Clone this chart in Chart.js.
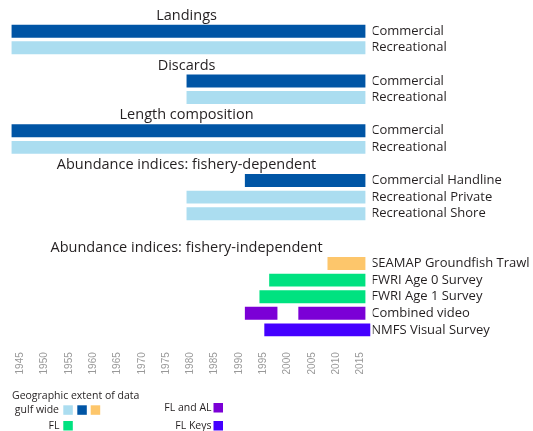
<!DOCTYPE html>
<html>
<head>
<meta charset="utf-8">
<script src="https://cdn.jsdelivr.net/npm/chart.js@4.4.0/dist/chart.umd.min.js"></script>
<style>
  body { margin: 0; background: #fff; }
  #wrap { width: 533px; height: 431px; }
</style>
</head>
<body>
<div id="wrap"><canvas id="timeline" width="533" height="431"></canvas></div>
<script>
// one entry per row, '' rows carry the section titles
const rowLabels = ['', 'Commercial', 'Recreational',
  '', 'Commercial', 'Recreational',
  '', 'Commercial', 'Recreational',
  '', 'Commercial Handline', 'Recreational Private', 'Recreational Shore',
  '', '', 'SEAMAP Groundfish Trawl', 'FWRI Age 0 Survey', 'FWRI Age 1 Survey', 'Combined video', 'NMFS Visual Survey'];

const sectionTitles = ['Landings', 'Discards', 'Length composition',
  'Abundance indices: fishery-dependent', 'Abundance indices: fishery-independent'];
const sectionRows = [0, 3, 6, 9, 14];

const startYears = [null, 1943.2, 1943.2, null, 1979.2, 1979.2, null, 1943.2, 1943.2,
  null, 1991.2, 1979.2, 1979.2, null, null, 2008.2, 1996.2, 1994.2, 1991.2, 1995.2];
const endYears = [null, 2016, 2016, null, 2016, 2016, null, 2016, 2016,
  null, 2016, 2016, 2016, null, null, 2016, 2016, 2016, 1997.9, 2017];
// second piece of the combined video series
const secondStart = [null, null, null, null, null, null, null, null, null,
  null, null, null, null, null, null, null, null, null, 2002.2, null];
const secondEnd = [null, null, null, null, null, null, null, null, null,
  null, null, null, null, null, null, null, null, null, 2016, null];

const rowSource = ['', 'com', 'rec', '', 'com', 'rec', '', 'com', 'rec',
  '', 'com', 'rec', 'rec', '', '', 'trawl', 'fl', 'fl', 'flal', 'keys'];

const yearTicks = [1945, 1950, 1955, 1960, 1965, 1970, 1975, 1980, 1985, 1990, 1995, 2000, 2005, 2010, 2015];

const palette = {
  com: 'rgb(0, 85, 165)',
  rec: 'rgb(171, 221, 240)',
  trawl: 'rgb(253, 198, 107)',
  fl: 'rgb(0, 226, 128)',
  flal: 'rgb(123, 0, 214)',
  keys: 'rgb(68, 0, 255)'
};

const textColor = '#231f20';

const toPairs = (a, b) => a.map((v, i) => (v === null ? null : [v, b[i]]));
const rowColors = rowSource.map(k => palette[k] || 'rgba(0,0,0,0)');

const overlay = {
  id: 'overlay',
  afterDraw(chart) {
    const ctx = chart.ctx;
    const x = chart.scales.x;
    const y = chart.scales.y;
    ctx.save();
    ctx.fillStyle = textColor;
    ctx.font = '14.5px "Open Sans"';
    ctx.textAlign = 'center';
    ctx.textBaseline = 'middle';
    const cx = x.getPixelForValue(1979.2);
    sectionTitles.forEach((t, i) => {
      ctx.fillText(t, cx, y.getPixelForValue(sectionRows[i]) + 1);
    });

    // geographic extent legend
    ctx.font = '10.5px "Open Sans"';
    ctx.textAlign = 'left';
    ctx.fillText('Geographic extent of data', 12, 396);
    ctx.textAlign = 'right';
    ctx.fillText('gulf wide', 59, 410);
    ctx.fillText('FL', 59.5, 426);
    ctx.fillText('FL and AL', 211.5, 408);
    ctx.fillText('FL Keys', 211.5, 426);
    const box = (c, bx, by) => { ctx.fillStyle = c; ctx.fillRect(bx, by, 9.5, 9.5); };
    box(palette.rec, 63.3, 405.3);
    box(palette.com, 77.3, 405.3);
    box(palette.trawl, 90.7, 405.3);
    box(palette.fl, 63.3, 421);
    box(palette.flal, 213.5, 403);
    box(palette.keys, 213.5, 421);
    ctx.restore();
  }
};

new Chart(document.getElementById('timeline'), {
  type: 'bar',
  data: {
    labels: rowLabels,
    datasets: [{
      data: toPairs(startYears, endYears),
      backgroundColor: rowColors,
      borderWidth: 0,
      grouped: false,
      barPercentage: 0.78,
      categoryPercentage: 1
    }, {
      data: toPairs(secondStart, secondEnd),
      backgroundColor: rowColors,
      borderWidth: 0,
      grouped: false,
      barPercentage: 0.78,
      categoryPercentage: 1
    }]
  },
  options: {
    indexAxis: 'y',
    responsive: false,
    animation: false,
    layout: { padding: { top: 6, left: 10.6, right: 0, bottom: 42.8 } },
    plugins: {
      legend: { display: false },
      tooltip: { enabled: false }
    },
    scales: {
      x: {
        type: 'linear',
        min: 1943,
        max: 2017.5,
        grid: { display: false, drawTicks: false },
        border: { display: false },
        afterBuildTicks: s => { s.ticks = yearTicks.map(v => ({ value: v })); },
        afterFit: s => { s.height = 50; },
        ticks: {
          color: '#999999',
          font: { family: '"Liberation Sans", Arial', size: 10 },
          minRotation: 90,
          maxRotation: 90,
          autoSkip: false,
          padding: 14,
          callback: v => String(v)
        }
      },
      y: {
        position: 'right',
        grid: { display: false, drawTicks: false },
        border: { display: false },
        afterFit: s => { s.width = 160.3; },
        ticks: {
          color: textColor,
          font: { family: '"Open Sans"', size: 13 },
          autoSkip: false,
          padding: -1.5
        }
      }
    }
  },
  plugins: [overlay]
});
</script>
</body>
</html>
